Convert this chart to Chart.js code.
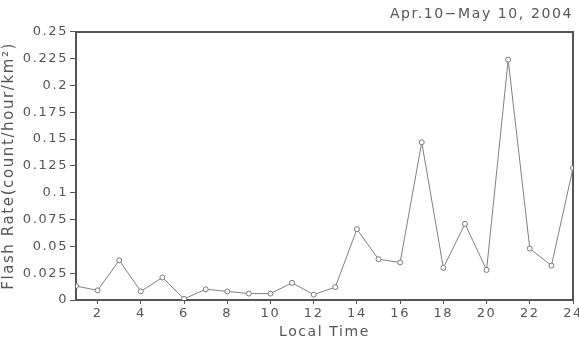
<!DOCTYPE html>
<html>
<head>
<meta charset="utf-8">
<script src="https://cdn.jsdelivr.net/npm/chart.js@4/dist/chart.umd.min.js"></script>
<style>
html,body{margin:0;padding:0;background:#fff;}
#wrap{width:579px;height:341px;}
</style>
</head>
<body>
<div id="wrap"><canvas id="c" width="579" height="341"></canvas></div>
<script>
const hours = [1,2,3,4,5,6,7,8,9,10,11,12,13,14,15,16,17,18,19,20,21,22,23,24];
const flashRate = [0.013,0.009,0.037,0.008,0.021,0.001,0.010,0.008,0.006,0.006,0.016,0.005,0.012,0.066,0.038,0.035,0.147,0.030,0.071,0.028,0.224,0.048,0.032,0.123];
const xTicks = [2,4,6,8,10,12,14,16,18,20,22,24];
const yTicks = [0,0.025,0.05,0.075,0.1,0.125,0.15,0.175,0.2,0.225,0.25];
const titleText = 'Apr.10\u2212May 10, 2004';
const yTitle = 'Flash Rate(count/hour/km\u00B2)';
const xTitle = 'Local Time';

const TXT = '#555';
const AX = '#555';
const FONT = 'DejaVu Sans';
const LS = '1.6px';

const spacing = {
  id:'spacing',
  beforeInit(chart){ chart.ctx.letterSpacing=LS; },
  beforeLayout(chart){ chart.ctx.letterSpacing=LS; },
  beforeDraw(chart){ chart.ctx.letterSpacing=LS; }
};

new Chart(document.getElementById('c'), {
  type:'line',
  data:{
    datasets:[{
      data: hours.map((h,i)=>({x:h,y:flashRate[i]})),
      borderColor:'#808080',
      borderWidth:1,
      pointRadius:2.5,
      pointBackgroundColor:'#fff',
      pointBorderColor:'#777',
      pointBorderWidth:1,
      tension:0
    }]
  },
  options:{
    responsive:false,
    animation:false,
    layout:{padding:{left:0,right:6,top:0,bottom:0}},
    plugins:{
      legend:{display:false},
      tooltip:{enabled:false},
      title:{display:true,text:titleText,align:'end',color:TXT,
        font:{family:FONT,size:14,weight:'normal',lineHeight:1.2},padding:{top:6,bottom:9}}
    },
    scales:{
      x:{
        type:'linear',min:1,max:24,
        afterBuildTicks(s){ s.ticks = xTicks.map(v=>({value:v})); },
        afterFit(s){ s.height=41; s.paddingLeft=0; s.paddingRight=0; },
        ticks:{color:TXT,font:{family:FONT,size:13},padding:2,maxRotation:0,autoSkip:false},
        grid:{drawOnChartArea:false,drawTicks:true,tickLength:4,color:AX,lineWidth:1},
        border:{display:true,color:AX,width:2},
        title:{display:true,text:xTitle,color:TXT,font:{family:FONT,size:14},padding:{top:0,bottom:0}}
      },
      x2:{
        type:'linear',position:'top',min:1,max:24,
        afterFit(s){ s.height=0; s.paddingLeft=0; s.paddingRight=0; },
        ticks:{display:false},
        grid:{display:true,drawOnChartArea:false,drawTicks:false},
        border:{display:true,color:AX,width:2}
      },
      y:{
        min:0,max:0.25,
        afterBuildTicks(s){ s.ticks = yTicks.map(v=>({value:v})); },
        afterFit(s){ s.width=76; s.paddingTop=0; s.paddingBottom=0; },
        ticks:{color:TXT,font:{family:FONT,size:13},padding:2,
          callback:(v)=>String(Math.round(v*1000)/1000)},
        grid:{drawOnChartArea:false,drawTicks:true,tickLength:6,color:AX,lineWidth:1},
        border:{display:true,color:AX,width:2},
        title:{display:true,text:yTitle,color:TXT,font:{family:FONT,size:15},padding:{top:0,bottom:0}}
      },
      y2:{
        position:'right',min:0,max:0.25,
        afterFit(s){ s.width=0; s.paddingTop=0; s.paddingBottom=0; },
        ticks:{display:false},
        grid:{display:true,drawOnChartArea:false,drawTicks:false},
        border:{display:true,color:AX,width:2}
      }
    }
  },
  plugins:[spacing]
});
</script>
</body>
</html>
